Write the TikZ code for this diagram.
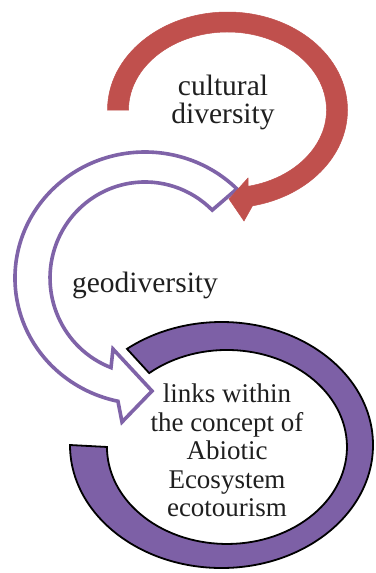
\documentclass[tikz,border=0pt]{standalone}
\usepackage{fontspec}
\setmainfont{Liberation Serif}
\definecolor{redarc}{HTML}{C0504D}
\definecolor{purpline}{HTML}{7F63A8}
\definecolor{ringfill}{HTML}{7D60A6}
\begin{document}
\begin{tikzpicture}[x=1pt,y=1pt,yscale=-1,
  redarrow/.style={fill=redarc, draw=redarc, line width=0.5pt, line join=miter},
  hollowarrow/.style={draw=purpline, fill=white, line width=3.6pt, line join=miter},
  ringband/.style={fill=ringfill, draw=black, line width=1.8pt},
  lbl/.style={align=center, inner sep=0pt, text=black!88}]
\useasboundingbox[fill=white] (0,0) rectangle (375,573);
% ring (Abiotic ecosystem)
\filldraw[ringband] (70,445)
  arc[start angle=180, end angle=-128.6, x radius=151.5, y radius=123]
  -- (149.2,373.1)
  arc[start angle=-130.4, end angle=180, x radius=120, y radius=97] -- cycle;
% hollow purple arrow (geodiversity)
\filldraw[hollowarrow] (236.9,188.9)
  arc[start angle=315, end angle=102, x radius=130, y radius=126]
  -- (122,422) -- (152,391) -- (113,349) -- (111,367.6)
  arc[start angle=111, end angle=315, x radius=95, y radius=96] -- cycle;
% red arrow (cultural diversity)
\filldraw[redarrow] (107.5,110)
  arc[start angle=180, end angle=438, x radius=120, y radius=98]
  -- (244,221) -- (229,199) -- (248,178) -- (248.1,186.3)
  arc[start angle=438, end angle=180, x radius=99, y radius=78] -- cycle;
% labels
\node[lbl, font=\fontsize{29.5}{28}\selectfont] (cult) at (223,102) {cultural\\diversity};
\node[lbl, font=\fontsize{29.5}{28}\selectfont] (geo) at (145,285) {geodiversity};
\node[lbl, font=\fontsize{27}{28.5}\selectfont] (eco) at (227,450.5) {links within\\the concept of\\Abiotic\\Ecosystem\\ecotourism};
\end{tikzpicture}
\end{document}
